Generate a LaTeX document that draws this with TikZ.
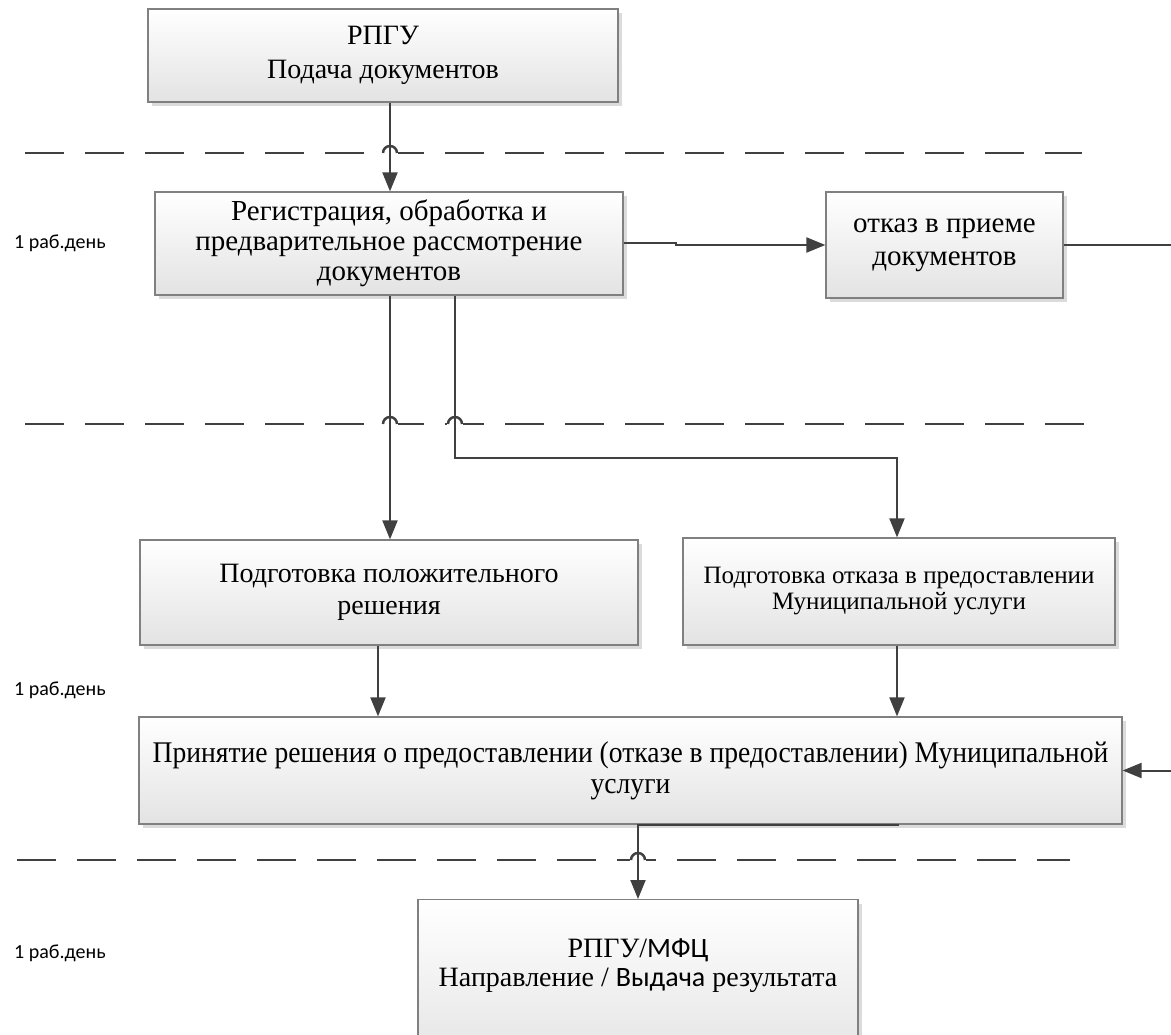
\documentclass[tikz,border=0pt]{standalone}
\usepackage{fontspec}
\usepackage{graphicx}
\setmainfont{Liberation Serif}
\newfontfamily\calibri{Carlito}
\usetikzlibrary{arrows.meta,shadows}

\begin{document}
\begin{tikzpicture}[x=1pt,y=-1pt,
    box/.style={draw=black!50, line width=1.2pt, top color=white, bottom color=black!11,
        drop shadow={shadow xshift=4pt, shadow yshift=-4pt, fill=black!14, opacity=1},
        align=center, inner sep=0pt, font=\fontsize{28}{34}\selectfont},
    conn/.style={draw=black!75, line width=2pt},
    arr/.style={conn, -{Triangle[length=19pt,width=15pt]}},
    sep/.style={draw=black!75, line width=2.5pt, dash pattern=on 39pt off 21pt},
    hop/.style={draw=black!75, line width=2.5pt},
    day/.style={anchor=west, inner sep=0pt, font=\calibri\fontsize{20}{24}\selectfont}]
    \path[use as bounding box, clip] (0,0) rectangle (1171,1035);

    \draw[sep] (25,153) -- (1082,153);
    \draw[sep] (25,424) -- (1096,424);
    \draw[sep] (17,860) -- (1070,860);
    \foreach \hx/\hy in {390/153, 390/424, 455/424, 638/860} {
        \fill[white] (\hx-8,\hy-3) rectangle (\hx+8,\hy+3);
        \draw[hop] (\hx-7,\hy) arc[start angle=180, end angle=0, radius=7pt];
    }

    \node[box, minimum width=470pt, minimum height=93pt] (b1) at (383,55.5) {РПГУ\\Подача документов};
    \node[box, minimum width=468pt, minimum height=103pt, font=\fontsize{29}{30}\selectfont] (b2) at (389,243.5)
        {Регистрация, обработка и\\предварительное рассмотрение\\документов};
    \node[box, minimum width=237pt, minimum height=106pt, font=\fontsize{29}{33}\selectfont] (b3) at (944.5,245)
        {отказ в приеме\\документов};
    \node[box, minimum width=498pt, minimum height=105pt, font=\fontsize{28}{32}\selectfont] (b4) at (389,592.5)
        {Подготовка положительного\\решения};
    \node[box, minimum width=432pt, minimum height=107pt, font=\fontsize{25}{26}\selectfont] (b5) at (899,591.5)
        {Подготовка отказа в предоставлении\\Муниципальной услуги};
    \node[box, minimum width=983pt, minimum height=107pt, font=\fontsize{30}{31}\selectfont] (b6) at (630.5,770.5)
        {\scalebox{0.92}[1]{Принятие решения о предоставлении (отказе в предоставлении) Муниципальной}\\\scalebox{0.92}[1]{услуги}};
    \node[box, anchor=north, minimum width=440pt, minimum height=170pt] (b7) at (638,899) {};
    \node[align=center, inner sep=0pt, font=\fontsize{28}{29}\selectfont] (b7t) at (638,966)
        {РПГУ/{\calibri МФЦ}\\Направление / {\calibri Выдача} результата};

    \node[day] (d1) at (14,243) {1 раб.день};
    \node[day] (d2) at (14,690) {1 раб.день};
    \node[day] (d3) at (14,953) {1 раб.день};

    \draw[arr] (390,0 |- b1.south) -- (390,0 |- b2.north);
    \draw[arr] (b2.east) -- (676,0 |- b2.east) -- (676,0 |- b3.west) -- (b3.west);
    \draw[arr] (b3.east) -- (1190,0 |- b3.east) -- (1190,0 |- b6.east) -- (b6.east);
    \draw[arr] (390,0 |- b2.south) -- (390,0 |- b4.north);
    \draw[arr] (455,0 |- b2.south) -- (455,458) -- (897,458) -- (897,0 |- b5.north);
    \draw[arr] (378,0 |- b4.south) -- (378,0 |- b6.north);
    \draw[arr] (897,0 |- b5.south) -- (897,0 |- b6.north);
    \draw[arr] (899,0 |- b6.south) -- (638,0 |- b6.south) -- (638,0 |- b7.north);
\end{tikzpicture}
\end{document}
